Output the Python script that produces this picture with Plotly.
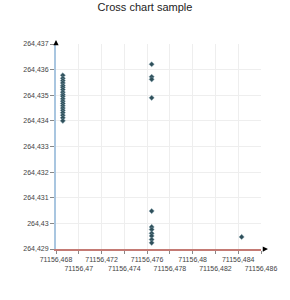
import plotly.graph_objects as go

# Data (x, y pairs)
x_values = [
    71156.4686, 71156.4686, 71156.4686, 71156.4686, 71156.4686, 71156.4686,
    71156.4686, 71156.4686, 71156.4686, 71156.4686, 71156.4686, 71156.4686,
    71156.4686, 71156.4686, 71156.4686, 71156.4686, 71156.4686, 71156.4686,
    71156.4686, 71156.4686,
    71156.4764, 71156.4764, 71156.4764, 71156.4764,
    71156.4764, 71156.4764, 71156.4764, 71156.4764, 71156.4764, 71156.4764, 71156.4764,
    71156.4843,
]
y_values = [
    264.43578, 264.43566, 264.43557, 264.43548, 264.43538, 264.43531,
    264.43522, 264.43512, 264.43503, 264.43496, 264.43486, 264.43477,
    264.43468, 264.43459, 264.43450, 264.43441, 264.43432, 264.43422,
    264.43412, 264.43400,
    264.43621, 264.43572, 264.43562, 264.43490,
    264.43048, 264.42986, 264.42976, 264.42961, 264.42951, 264.42937, 264.42924,
    264.42947,
]

x_tickvals = [71156.468, 71156.470, 71156.472, 71156.474, 71156.476,
              71156.478, 71156.480, 71156.482, 71156.484, 71156.486]
x_ticktext = ["71156,468", "<br>71156,47", "71156,472", "<br>71156,474", "71156,476",
              "<br>71156,478", "71156,48", "<br>71156,482", "71156,484", "<br>71156,486"]
y_tickvals = [264.429, 264.430, 264.431, 264.432, 264.433, 264.434, 264.435, 264.436, 264.437]
y_ticktext = ["264,429", "264,43", "264,431", "264,432", "264,433", "264,434", "264,435",
              "264,436", "264,437"]

fig = go.Figure()
fig.add_trace(go.Scatter(
    x=x_values, y=y_values, mode="markers",
    marker=dict(symbol="diamond", size=4, color="#2f4f5a",
                line=dict(color="#7f9faa", width=0.5)),
    showlegend=False, hoverinfo="x+y",
))

tickfont = dict(family="Liberation Sans, Arial, sans-serif", size=7, color="#444444")

fig.update_layout(
    width=290, height=300,
    margin=dict(l=56, r=29, t=44, b=51),
    paper_bgcolor="white", plot_bgcolor="white",
    title=dict(text="Cross chart sample", x=0.5, xanchor="center",
               y=0.988, yanchor="top", yref="container",
               font=dict(family="Liberation Sans, Arial, sans-serif", size=11, color="#222222")),
    xaxis=dict(range=[71156.468, 71156.486], tickmode="array",
               tickvals=x_tickvals, ticktext=x_ticktext, tickangle=0,
               showgrid=True, gridcolor="#eeeeee", gridwidth=1,
               showline=True, linecolor="#c47a74", linewidth=1.5,
               ticks="outside", ticklen=3, tickcolor="#888888", tickwidth=1,
               tickfont=tickfont, zeroline=False, fixedrange=True),
    xaxis2=dict(range=[71156.468, 71156.486], overlaying="x", matches="x",
                tickmode="array", tickvals=x_tickvals, showticklabels=False,
                showgrid=False, ticks="inside", ticklen=3, tickcolor="#888888",
                tickwidth=1, side="bottom", zeroline=False, showline=False),
    yaxis=dict(range=[264.429, 264.437], tickmode="array",
               tickvals=y_tickvals, ticktext=y_ticktext,
               showgrid=True, gridcolor="#eeeeee", gridwidth=1,
               showline=True, linecolor="#a9c6e0", linewidth=2,
               ticks="outside", ticklen=4, tickcolor="#888888", tickwidth=1,
               tickfont=tickfont, zeroline=False, fixedrange=True),
)

# Axis arrowheads (decorations in paper coordinates)
fig.add_annotation(x=0, y=1.02, xref="paper", yref="paper", ax=0, ay=3,
                   axref="pixel", ayref="pixel", showarrow=True, arrowhead=2,
                   arrowsize=0.7, arrowwidth=1.5, arrowcolor="black", text="")
fig.add_annotation(x=1.034, y=0, xref="paper", yref="paper", ax=-3, ay=0,
                   axref="pixel", ayref="pixel", showarrow=True, arrowhead=2,
                   arrowsize=0.7, arrowwidth=1.5, arrowcolor="black", text="")

fig.write_html("out.html")
